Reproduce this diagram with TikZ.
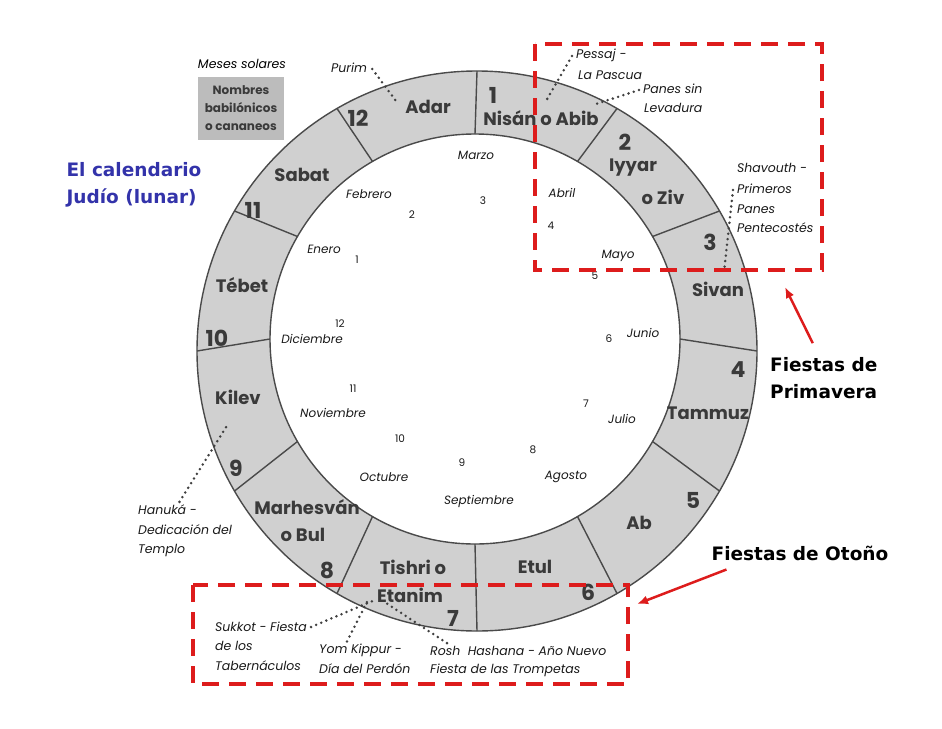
\documentclass[tikz,border=0pt]{standalone}
\usepackage{fontspec}
\setmainfont{Poppins}
\newfontfamily\slidefont{DejaVu Sans}
\usetikzlibrary{arrows.meta,calc}
\definecolor{ringgray}{HTML}{D0D0D0}
\definecolor{boxgray}{HTML}{BCBCBC}
\definecolor{inkgray}{HTML}{3A3A3A}
\definecolor{edge}{HTML}{4A4A4A}
\definecolor{titleblue}{HTML}{3333AA}
\definecolor{alert}{HTML}{DD1C1C}

\begin{document}
\begin{tikzpicture}[x=1pt,y=-1pt,
  ring/.style={font=\fontsize{18}{20}\selectfont\bfseries,text=inkgray,inner sep=0pt},
  num/.style={font=\fontsize{22}{22}\selectfont\bfseries,text=inkgray,inner sep=0pt},
  month/.style={font=\fontsize{12}{14}\selectfont\itshape,text=black!90,inner sep=0pt},
  day/.style={font=\fontsize{10.5}{12}\selectfont,text=black!90,inner sep=0pt},
  note/.style={font=\fontsize{12.5}{20}\selectfont\itshape,text=black!90,inner sep=0pt,anchor=west},
  dots/.style={black!75,line width=2.8pt,line cap=round,dash pattern=on 0pt off 5.5pt},
  edgeline/.style={edge,line width=1.4pt},
  frame/.style={alert,line width=3.5pt,dash pattern=on 17pt off 10pt},
  callout/.style={font=\slidefont\fontsize{18.5}{27}\selectfont\bfseries,inner sep=0pt},
  arr/.style={-{Latex[length=11pt,width=9pt]},alert,line width=2.5pt}
]
\useasboundingbox (0,0) rectangle (942,728);
\coordinate (oc) at (477,351);
\coordinate (ic) at (475,339);

\fill[ringgray,even odd rule] (oc) circle[radius=280pt] (ic) circle[radius=205pt];
\draw[edgeline] (oc) circle[radius=280pt];
\draw[edgeline] (ic) circle[radius=205pt];
\foreach \a in {0,30,...,330}
  \draw[edgeline] ($(ic)+(\a:205pt)$) -- ($(oc)+(\a:280pt)$);

\node[num] (n1) at (493,95) {1};
\node[ring] (nisan) at (541,118) {Nisán o Abib};
\node[num] (n2) at (625,142) {2};
\node[ring] (iyyar) at (633,168) {Iyyar};
\node[ring] (ziv) at (663,197) {o Ziv};
\node[num] (n3) at (710,242) {3};
\node[ring] (sivan) at (718,289) {Sivan};
\node[num] (n4) at (738,370) {4};
\node[ring] (tammuz) at (708,413) {Tammuz};
\node[num] (n5) at (693,500) {5};
\node[ring] (ab) at (639,523) {Ab};
\node[num] (n6) at (588,592) {6};
\node[ring] (etul) at (535,567) {Etul};
\node[num] (n7) at (453,618) {7};
\node[ring] (tishri) at (413,567) {Tishri o};
\node[ring] (etanim) at (410,595) {Etanim};
\node[num] (n8) at (327,570) {8};
\node[ring] (marhes) at (307,507) {Marhesván};
\node[ring] (bul) at (303,535) {o Bul};
\node[num] (n9) at (236,468) {9};
\node[ring] (kilev) at (238,397) {Kilev};
\node[num] (n10) at (217,338) {10};
\node[ring] (tebet) at (242,285) {Tébet};
\node[num] (n11) at (253,210) {11};
\node[ring] (sabat) at (302,175) {Sabat};
\node[num] (n12) at (358,118) {12};
\node[ring] (adar) at (428,107) {Adar};

\foreach \x/\y/\t [count=\i] in {324/249/Enero,369/194/Febrero,476/155/Marzo,562/193/Abril,618/256/Mayo,643/333/Junio,622/419/Julio,566/477/Agosto,479/501/Septiembre,384/477/Octubre,333/413/Noviembre,312/339/Diciembre}
  \node[month] (m\i) at (\x,\y) {\t};
\foreach \x/\y/\t in {357/260/1,412/215/2,483/201/3,551/226/4,595/276/5,609/339/6,586/404/7,533/450/8,462/463/9,400/439/10,353/389/11,340/324/12}
  \node[day] (d\t) at (\x,\y) {\t};

\node[font=\fontsize{12.5}{14}\selectfont\itshape,inner sep=0pt] (solar) at (242,64) {Meses solares};
\node[fill=boxgray,minimum width=86pt,minimum height=63pt,align=center,text=inkgray,
  font=\fontsize{12}{18}\selectfont\bfseries,inner sep=0pt] (babil) at (241,108) {Nombres\\babilónicos\\o cananeos};
\node[callout,text=titleblue,align=left] (title) at (134,185) {El calendario\\Judío (lunar)};

\node[note] (purim) at (331,68) {Purim};
\node[note] (pessaj) at (576,55) {Pessaj -};
\node[note] (pascua) at (578,75) {La Pascua};
\node[note] (panes) at (643,89) {Panes sin};
\node[note] (levad) at (644,108) {Levadura};
\node[note] (shav) at (737,168) {Shavouth -};
\node[note] (prim) at (737,189) {Primeros};
\node[note] (panes2) at (737,209) {Panes};
\node[note] (pente) at (737,228) {Pentecostés};
\node[note] (hanuka) at (138,510) {Hanuká -};
\node[note] (dedic) at (138,530) {Dedicación del};
\node[note] (templo) at (138,550) {Templo};
\node[note] (sukkot) at (215,627) {Sukkot - Fiesta};
\node[note] (delos) at (215,646) {de los};
\node[note] (tabern) at (215,666) {Tabernáculos};
\node[note] (yom) at (319,650) {Yom Kippur -};
\node[note] (perdon) at (319,669) {Día del Perdón};
\node[note] (rosh) at (430,651) {Rosh\ \ Hashana - Año Nuevo};
\node[note] (trompetas) at (430,670) {Fiesta de las Trompetas};

\coordinate (purimTip) at (396,101);
\coordinate (pessajTip) at (546,101);
\coordinate (panesTip) at (596,104);
\coordinate (shavTip) at (724,272);
\coordinate (hanukaTip) at (228,424);
\coordinate (sukkotTip) at (375,600);
\coordinate (yomTip) at (368,600);
\coordinate (roshTip) at (383,601);
\draw[dots] (purim.east) ++(5,1) -- (purimTip);
\draw[dots] (pessaj.west) ++(-4,1) -- (pessajTip);
\draw[dots] (panes.west) ++(-4,1) -- (panesTip);
\draw[dots] (prim.west) ++(-4,1) -- (shavTip);
\draw[dots] (hanuka.north) ++(12,-3) -- (hanukaTip);
\draw[dots] (sukkot.east) ++(4,0) -- (sukkotTip);
\draw[dots] (yom.north west) ++(28,-2) -- (yomTip);
\draw[dots] (rosh.north west) ++(17,-3) -- (roshTip);

\draw[frame] (535,44) rectangle (822,270);
\draw[frame] (193,585) rectangle (628,684);

\node[callout,align=left,anchor=west] (primavera) at (770,378) {Fiestas de\\Primavera};
\node[callout] (otono) at (800,553) {Fiestas de Otoño};
\coordinate (springTip) at (785,287);
\coordinate (autumnTip) at (637,604);
\draw[arr] (primavera.north) ++(-11,-14) -- (springTip);
\draw[arr] (otono.south west) ++(15,9) -- (autumnTip);
\end{tikzpicture}
\end{document}
